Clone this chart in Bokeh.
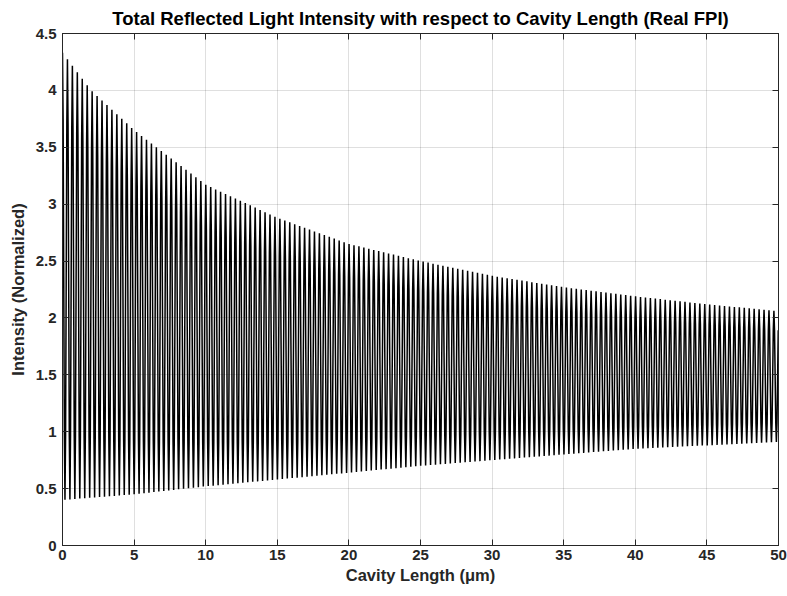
import numpy as np
from bokeh.plotting import figure
from bokeh.models import LinearAxis, FixedTicker, Range1d, CustomJSTickFormatter
from bokeh.embed import file_html
from bokeh.resources import INLINE

# --- values ---
cavity_um = [0, 2, 5, 10, 15, 20, 25, 30, 35, 40, 45, 50]
upper_env = [4.33, 4.00, 3.65, 3.17, 2.88, 2.65, 2.50, 2.37, 2.27, 2.19, 2.12, 2.06]
lower_env = [0.40, 0.42, 0.45, 0.52, 0.58, 0.64, 0.70, 0.75, 0.80, 0.85, 0.88, 0.91]
fringe_period_um = 0.345

x_ticks = [0, 5, 10, 15, 20, 25, 30, 35, 40, 45, 50]
x_tick_labels = ["0", "5", "10", "15", "20", "25", "30", "35", "40", "45", "50"]
y_ticks = [0, 0.5, 1, 1.5, 2, 2.5, 3, 3.5, 4, 4.5]
y_tick_labels = ["0", "0.5", "1", "1.5", "2", "2.5", "3", "3.5", "4", "4.5"]

title_text = "Total Reflected Light Intensity with respect to Cavity Length (Real FPI)"
x_label = "Cavity Length (\u03bcm)"
y_label = "Intensity (Normalized)"

# --- fringe trace between the read envelopes ---
L = np.arange(0, 50 + 1e-9, fringe_period_um / 8)
up = np.interp(L, cavity_um, upper_env)
lo = np.interp(L, cavity_um, lower_env)
intensity = (up + lo) / 2 + (up - lo) / 2 * np.cos(2 * np.pi * L / fringe_period_um)

FONT = "Liberation Sans"
AX = "#262626"

p = figure(width=787, height=596, output_backend="svg", toolbar_location=None,
           x_range=Range1d(0, 50), y_range=Range1d(0, 4.5),
           min_border_left=62, min_border_right=9, min_border_top=33, min_border_bottom=51)
p.background_fill_color = "white"
p.border_fill_color = "white"
p.outline_line_color = AX
p.outline_line_width = 1

p.title.text = title_text
p.title.text_font = FONT
p.title.text_font_style = "bold"
p.title.text_font_size = "18.5px"
p.title.align = "center"
p.title.text_color = "black"
p.title.standoff = 9

p.grid.grid_line_color = AX
p.grid.grid_line_alpha = 0.15
p.xgrid.ticker = FixedTicker(ticks=x_ticks)
p.ygrid.ticker = FixedTicker(ticks=y_ticks)

def style(ax, ticks, labels):
    ax.ticker = FixedTicker(ticks=ticks)
    ax.major_label_overrides = {t: l for t, l in zip(ticks, labels)}
    ax.axis_line_color = AX
    ax.major_tick_line_color = AX
    ax.major_tick_in = 6
    ax.major_tick_out = 0
    ax.minor_tick_line_color = None
    ax.major_label_text_font = FONT
    ax.major_label_text_font_style = "bold"
    ax.major_label_text_font_size = "15px"
    ax.major_label_text_color = "#262626"
    ax.axis_label_text_font = FONT
    ax.axis_label_text_font_style = "bold"
    ax.axis_label_text_font_size = "16.5px"
    ax.axis_label_text_color = "#262626"

style(p.xaxis[0], x_ticks, x_tick_labels)
style(p.yaxis[0], y_ticks, y_tick_labels)
p.xaxis[0].axis_label = x_label
p.yaxis[0].axis_label = y_label
p.xaxis[0].major_label_standoff = 4
p.xaxis[0].axis_label_standoff = 3
p.yaxis[0].major_label_standoff = 6
p.yaxis[0].axis_label_standoff = 6

# box ticks on top and right (no labels)
for loc in ("above", "right"):
    ax = LinearAxis(ticker=FixedTicker(ticks=x_ticks if loc == "above" else y_ticks),
                    formatter=CustomJSTickFormatter(code="return ''"))
    ax.axis_line_color = AX
    ax.major_tick_line_color = AX
    ax.major_tick_in = 6
    ax.major_tick_out = 0
    ax.minor_tick_line_color = None
    ax.major_label_standoff = 0
    ax.major_label_text_font_size = "1px"
    p.add_layout(ax, loc)

p.line(L, intensity, line_color="black", line_width=1.5)

open("out.html", "w").write(file_html(p, INLINE))
